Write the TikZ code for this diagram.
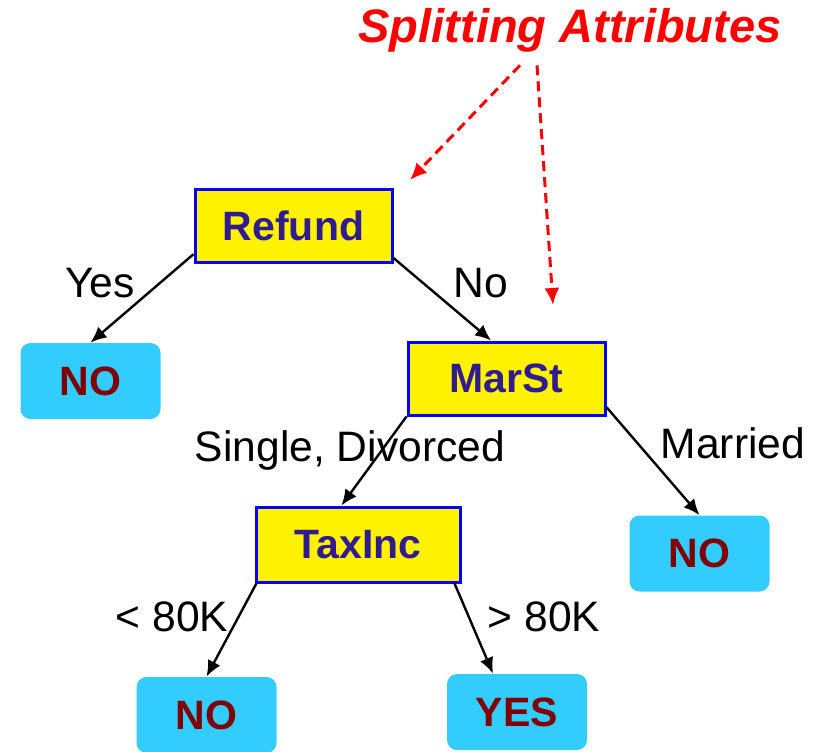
\documentclass[tikz,border=0pt]{standalone}
\usepackage{fontspec}
\setmainfont{Liberation Sans}
\usepackage{tikz}
\usetikzlibrary{calc, arrows.meta}
\definecolor{attrblue}{RGB}{0,0,255}
\definecolor{attrtext}{RGB}{48,28,145}
\definecolor{leafcyan}{RGB}{51,204,255}
\definecolor{leafred}{RGB}{128,0,0}

\begin{document}
\begin{tikzpicture}[x=0.5pt,y=-0.5pt,
        attr/.style={draw=attrblue, line width=1.5pt, fill=yellow, text=attrtext, inner sep=0pt,
            minimum width=98.5pt, minimum height=36.5pt, font=\fontsize{20.5}{24}\selectfont\bfseries},
        leaf/.style={fill=leafcyan, rounded corners=5pt, text=leafred, inner sep=0pt,
            minimum width=70pt, minimum height=38pt, font=\fontsize{20.5}{24}\selectfont\bfseries},
        lbl/.style={inner sep=0pt, font=\fontsize{21.3}{25}\selectfont},
        edge/.style={line width=1.2pt, -{Latex[length=8pt, width=7pt]}},
        hint/.style={red, line width=1.5pt, dash pattern=on 5pt off 3pt, -{Latex[length=8.5pt, width=7.5pt]}}]
        \useasboundingbox (0,0) rectangle (819,751);

        % tree nodes
        \node[attr] (refund) at (293.5,225.5) {Refund};
        \node[attr] (marst) at (506.5,378.5) {MarSt};
        \node[attr, minimum width=102pt, minimum height=37.5pt] (taxinc) at (358,544.5) {TaxInc};
        \node[leaf] (noA) at (90.5,381) {NO};
        \node[leaf] (noB) at (699.5,553.5) {NO};
        \node[leaf] (noC) at (206.5,715) {NO};
        \node[leaf] (yes) at (517,712) {YES};

        % branches
        \draw[edge] (refund.196) -- (noA.north);
        \draw[edge] (refund.342) -- (marst.112);
        \draw[edge] (marst.south west) -- (taxinc.113);
        \draw[edge] (marst.344) -- (noB.north);
        \draw[edge] (taxinc.201) -- (noC.north);
        \draw[edge] (taxinc.338) -- (yes.122);

        \node[lbl] (yesL) at (100,283) {Yes};
        \node[lbl] (noL) at (481,283) {No};
        \node[lbl] (singleL) at (350,450) {Single, Divorced};
        \node[lbl] (marriedL) at (733,443) {Married};
        \node[lbl] (lowL) at (172,617) {< 80K};
        \node[lbl] (highL) at (544,617) {> 80K};

        % splitting attributes
        \node[red, inner sep=0pt, font=\fontsize{23.5}{28}\selectfont\bfseries\itshape] (split) at (570,30) {Splitting Attributes};
        \coordinate (tipA) at (410,180);
        \coordinate (tipB) at (553,305);
        \draw[hint] ($(split.south)+(-50,13)$) -- (tipA);
        \draw[hint] ($(split.south)+(-33,13)$) -- (tipB);
    \end{tikzpicture}
\end{document}
